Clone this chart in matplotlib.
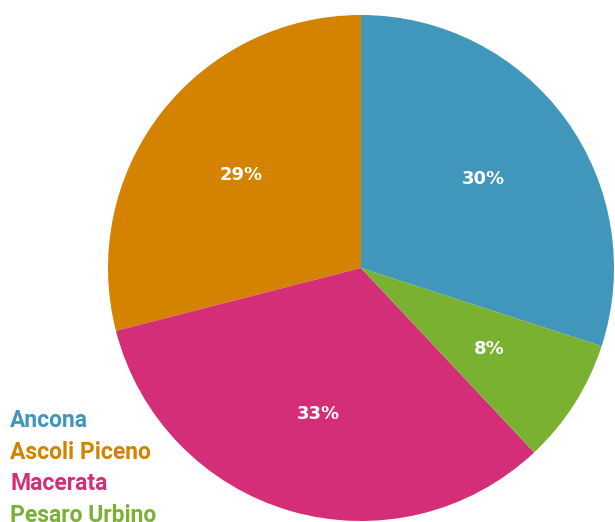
import matplotlib
matplotlib.use("Agg")
import matplotlib.pyplot as plt

# Share of total by province
provinces = ["Ancona", "Ascoli Piceno", "Macerata", "Pesaro Urbino"]
shares = [30, 29, 33, 8]
colors = ["#4196BC", "#D38300", "#D42E78", "#7AB131"]

W, H, DPI = 615, 522, 100
fig = plt.figure(figsize=(W / DPI, H / DPI), dpi=DPI)

# square axes holding a unit-radius pie
cx, cy, r = 361, 268, 253
ax = fig.add_axes([(cx - r) / W, (H - cy - r) / H, 2 * r / W, 2 * r / H])
ax.set_xlim(-1, 1)
ax.set_ylim(-1, 1)
ax.set_aspect("equal")
ax.axis("off")

# first slice ends at 12 o'clock, slices run counter-clockwise
start = 90 - shares[0] / sum(shares) * 360
wedges, _, autotexts = ax.pie(
    shares,
    colors=colors,
    startangle=start,
    counterclock=True,
    radius=1,
    autopct=lambda p: f"{p:.0f}%",
    pctdistance=0.6,
    wedgeprops=dict(linewidth=0),
    textprops=dict(color="white", fontsize=13, fontweight="bold",
                   family=["DejaVu Sans"]),
)
ax.set_xlim(-1, 1)
ax.set_ylim(-1, 1)

# coloured legend text down the lower-left corner
for i, (name, col) in enumerate(zip(provinces, colors)):
    fig.text(10 / W, 1 - (427 + i * 31.7) / H, name, color=col,
             fontsize=16.5, fontweight="bold", ha="left", va="baseline",
             family=["Roboto", "DejaVu Sans"])

fig.savefig("out.png", dpi=DPI)
